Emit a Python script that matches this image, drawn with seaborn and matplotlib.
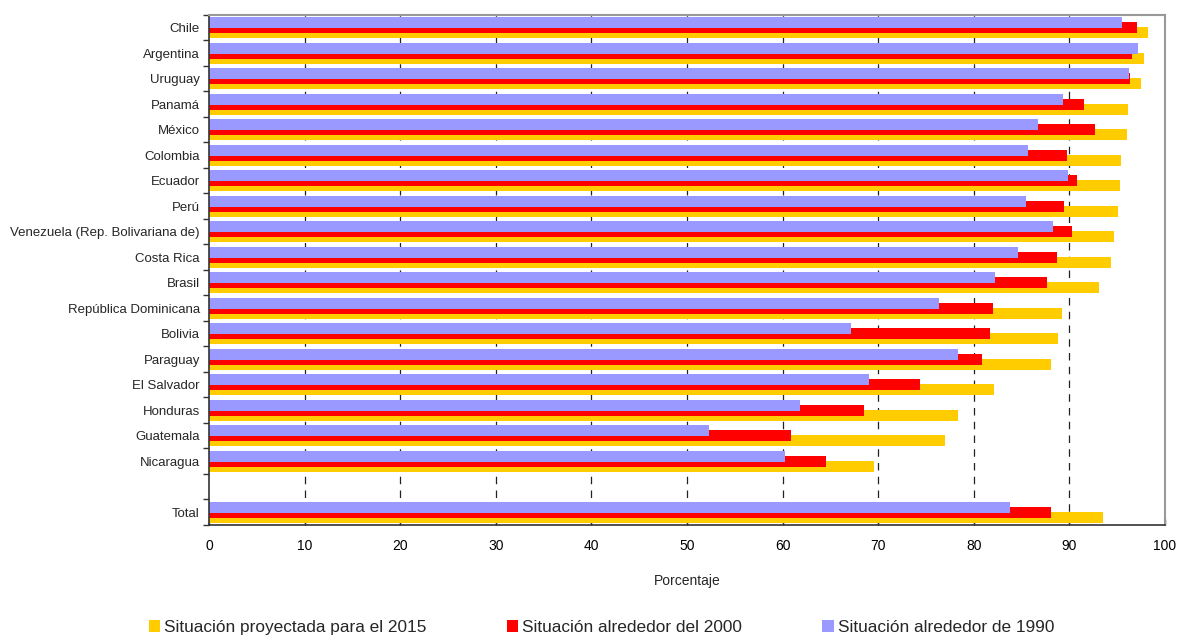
import matplotlib
matplotlib.use("Agg")
import matplotlib.pyplot as plt
from matplotlib.patches import Patch
import seaborn as sns
import pandas as pd
import numpy as np

paises = ["Chile", "Argentina", "Uruguay", "Panamá", "México", "Colombia", "Ecuador", "Perú",
          "Venezuela (Rep. Bolivariana de)", "Costa Rica", "Brasil", "República Dominicana",
          "Bolivia", "Paraguay", "El Salvador", "Honduras", "Guatemala", "Nicaragua", "Total"]
v2015 = [98.2, 97.8, 97.5, 96.1, 96.0, 95.4, 95.3, 95.1, 94.7, 94.4, 93.1, 89.2, 88.8, 88.1, 82.1, 78.3, 77.0, 69.6, 93.5]
v2000 = [97.1, 96.6, 96.3, 91.5, 92.7, 89.7, 90.8, 89.4, 90.3, 88.7, 87.7, 82.0, 81.7, 80.9, 74.4, 68.5, 60.9, 64.5, 88.1]
v1990 = [95.5, 97.2, 96.2, 89.3, 86.7, 85.7, 89.9, 85.5, 88.3, 84.6, 82.2, 76.4, 67.2, 78.3, 69.0, 61.8, 52.3, 60.3, 83.8]
series_labels = ["Situación proyectada para el 2015", "Situación alrededor del 2000", "Situación alrededor de 1990"]
colors = ["#FFCC00", "#FF0000", "#9999FF"]

order = paises[:-1] + [" "] + ["Total"]
df = pd.DataFrame({"pais": paises, "v2015": v2015, "v2000": v2000, "v1990": v1990})

sns.set_style("white")
plt.rcParams["font.family"] = ["Liberation Sans", "DejaVu Sans"]

fig = plt.figure(figsize=(11.78, 6.37), dpi=100)
ax = fig.add_axes([209/1178, 1 - 525/637, (1165-209)/1178, (525-15)/637])

offsets = [0.2, 0.0, -0.2]
bar_h = 0.43
for col, c, off in zip(["v2015", "v2000", "v1990"], colors, offsets):
    n_before = len(ax.patches)
    sns.barplot(data=df, x=col, y="pais", order=order, orient="h", width=bar_h,
                color=c, saturation=1, ax=ax, errorbar=None, linewidth=0)
    for p in ax.patches[n_before:]:
        p.set_y(p.get_y() + off)

ax.set_xlim(0, 100)
ax.set_ylim(len(order) - 0.5, -0.5)
ax.set_xticks(np.arange(0, 101, 10))
ax.tick_params(axis="x", which="major", bottom=True, direction="in", length=4, width=1,
               labelsize=10, color="#333333", labelcolor="#000000", pad=10)
ax.set_yticks(range(len(order)))
ax.set_yticklabels(order, fontsize=9.5)
ax.tick_params(axis="y", which="major", left=True, length=0, pad=6.5)
ax.set_yticks(np.arange(-0.5, len(order), 1), minor=True)
ax.tick_params(axis="y", which="minor", left=True, direction="out", length=4, width=1, color="#333333")
ax.set_xlabel("Porcentaje", fontsize=10, labelpad=15)
ax.set_ylabel("")

for xv in range(10, 100, 10):
    ax.axvline(xv, color="#222222", lw=0.9, ls=(0, (6, 5)), zorder=0)

for s in ["left", "bottom"]:
    ax.spines[s].set_color("#333333")
    ax.spines[s].set_linewidth(1.2)
for s in ["top", "right"]:
    ax.spines[s].set_color("#999999")
    ax.spines[s].set_linewidth(1.5)

handles = [Patch(facecolor=c, edgecolor="none") for c in colors]
fig.legend(handles, series_labels, loc="center left", bbox_to_anchor=(149/1178, 1 - 627.5/637), ncol=3,
           frameon=False, fontsize=12.4, handlelength=0.65, handleheight=0.65, handletextpad=0.25,
           columnspacing=4.65, borderpad=0, borderaxespad=0)

fig.savefig("out.png", dpi=100)
